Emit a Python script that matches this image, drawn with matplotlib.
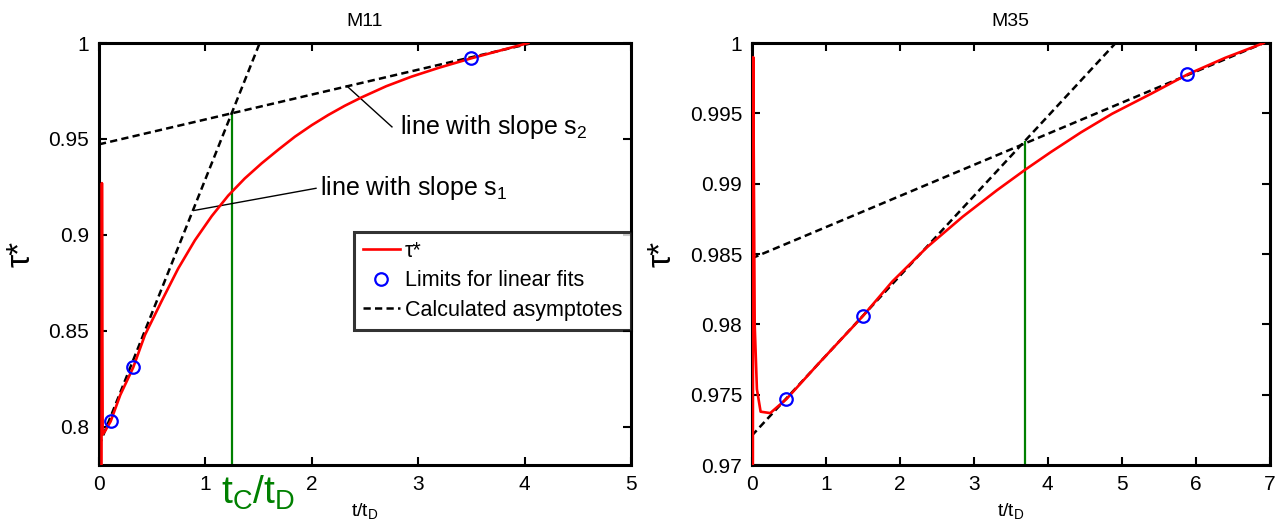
import numpy as np
import matplotlib
matplotlib.use('Agg')
from matplotlib import pyplot as plt

plt.rcParams['font.family'] = ['Liberation Sans', 'DejaVu Sans']
plt.rcParams['mathtext.fontset'] = 'custom'
plt.rcParams['mathtext.rm'] = 'Liberation Sans'
plt.rcParams['mathtext.it'] = 'Liberation Sans'

# ---- M11 data ----
m11_t = [0.024, 0.028, 0.035, 0.06, 0.11, 0.2, 0.322, 0.432, 0.589, 0.745, 0.902, 1.06,
         1.215, 1.37, 1.529, 1.69, 1.842, 2.0, 2.155, 2.31, 2.469, 2.7, 2.938, 3.2,
         3.496, 3.75, 4.035]
m11_tau = [0.78, 0.927, 0.796, 0.798, 0.8028, 0.8165, 0.8309, 0.8478, 0.8655, 0.8825,
           0.8972, 0.9098, 0.9205, 0.9294, 0.9373, 0.9446, 0.9512, 0.9572, 0.9625,
           0.9673, 0.9717, 0.9775, 0.9825, 0.9872, 0.9920, 0.9958, 1.0]
m11_fit_t = [0.11, 0.322, 3.496]
m11_fit_tau = [0.8028, 0.8309, 0.9920]
m11_s1 = (0.139, 0.790)     # slope, intercept
m11_s2 = (0.01297, 0.9472)
m11_tc = 1.25
m11_tauc = 0.9635

# ---- M35 data ----
m35_t = [0.015, 0.02, 0.04, 0.07, 0.12, 0.25, 0.47, 0.9, 1.50, 1.9, 2.37, 2.85, 3.31,
         3.70, 4.04, 4.45, 4.87, 5.4, 5.89, 6.4, 6.92]
m35_tau = [0.97, 0.999, 0.980, 0.9754, 0.9738, 0.9737, 0.9747, 0.9772, 0.98058,
           0.98305, 0.98549, 0.98765, 0.98952, 0.99101, 0.99224, 0.99365, 0.99497,
           0.99640, 0.99777, 0.99895, 1.0]
m35_fit_t = [0.47, 1.50, 5.89]
m35_fit_tau = [0.9747, 0.98058, 0.99777]
m35_s1 = (0.005674, 0.97209)
m35_s2 = (0.002211, 0.98470)
m35_tc = 3.69
m35_tauc = 0.993

red = '#ff0000'
green = '#008000'
dash = (2.9, 1.7)

fig = plt.figure(figsize=(12.85, 5.25), dpi=100)
ax1 = fig.add_axes([0.077, 0.114, 0.414, 0.804])
ax2 = fig.add_axes([0.585, 0.114, 0.403, 0.804])


def draw(ax, t, tau, ft, ftau, s1, s2, tc, tauc, xmax, ylo):
    xx = np.array([0.0, xmax])
    ax.plot(t, tau, color=red, lw=1.9, label='τ*', zorder=3)
    ax.plot(ft, ftau, 'o', mfc='none', mec='#0000ff', ms=9, mew=1.6,
            label='Limits for linear fits', zorder=4)
    ax.plot(xx, s1[0] * xx + s1[1], '--', color='k', lw=1.8, dashes=dash,
            label='Calculated asymptotes', zorder=2)
    ax.plot(xx, s2[0] * xx + s2[1], '--', color='k', lw=1.8, dashes=dash, zorder=2)
    ax.plot([tc, tc], [ylo, tauc], color=green, lw=1.6, zorder=1)
    ax.set_xlim(0, xmax)
    ax.tick_params(direction='in', length=6, width=1.5, top=True, right=True,
                   labelsize=15, pad=7)
    for sp in ax.spines.values():
        sp.set_linewidth(2.2)
    ax.set_xlabel(r'$\mathregular{t/t_D}$', fontsize=14, labelpad=5)
    ax.set_ylabel('τ*', fontsize=24)
    ax.yaxis.label.set_verticalalignment('center')


draw(ax1, m11_t, m11_tau, m11_fit_t, m11_fit_tau, m11_s1, m11_s2, m11_tc, m11_tauc, 5, 0.78)
ax1.set_ylim(0.78, 1.0)
ax1.set_xticks(range(0, 6))
ax1.set_yticks([0.8, 0.85, 0.9, 0.95, 1.0])
ax1.set_yticklabels(['0.8', '0.85', '0.9', '0.95', '1'])
ax1.set_title('M11', fontsize=14, pad=12)
ax1.yaxis.set_label_coords(-0.147, 0.5)

# annotations for the slopes
ax1.plot([2.754, 2.33], [0.9563, 0.9776], color='k', lw=1)
ax1.text(2.83, 0.9563, r'line with slope $\mathregular{s_2}$', fontsize=18, va='center')
ax1.plot([2.04, 0.90], [0.9243, 0.9128], color='k', lw=1)
ax1.text(2.08, 0.9243, r'line with slope $\mathregular{s_1}$', fontsize=18, va='center')

# green t_c/t_D label under the axis
ax1.text(1.15, -0.02, r'$\mathregular{t_C/t_D}$', color=green, fontsize=28,
         transform=ax1.get_xaxis_transform(), ha='left', va='top')

leg = ax1.legend(loc='upper right', bbox_to_anchor=(1.0, 0.552), borderaxespad=0,
                 fontsize=15.5, frameon=True, fancybox=False, handlelength=1.7,
                 handletextpad=0.25, labelspacing=0.4, borderpad=0.4)
leg.get_frame().set_edgecolor('k')
leg.get_frame().set_linewidth(2.2)

draw(ax2, m35_t, m35_tau, m35_fit_t, m35_fit_tau, m35_s1, m35_s2, m35_tc, m35_tauc, 7, 0.97)
ax2.set_ylim(0.97, 1.0)
ax2.set_xticks(range(0, 8))
y2 = [0.97, 0.975, 0.98, 0.985, 0.99, 0.995, 1.0]
ax2.set_yticks(y2)
ax2.set_yticklabels(['0.97', '0.975', '0.98', '0.985', '0.99', '0.995', '1'])
ax2.set_title('M35', fontsize=14, pad=12)
ax2.yaxis.set_label_coords(-0.174, 0.5)

plt.savefig('out.png', dpi=100)
